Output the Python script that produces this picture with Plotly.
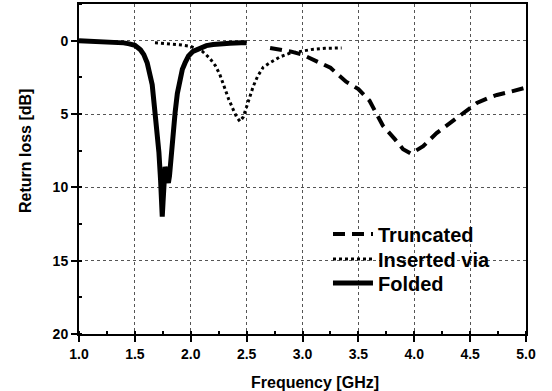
import plotly.graph_objects as go

# Folded (solid)
folded_x = [1.0, 1.1, 1.2, 1.3, 1.4, 1.45, 1.5, 1.55, 1.58, 1.61, 1.635, 1.655, 1.68, 1.70, 1.715, 1.73,
            1.738, 1.745, 1.752, 1.76, 1.77, 1.78, 1.79, 1.80, 1.81, 1.82, 1.835, 1.86, 1.88, 1.90, 1.925,
            1.95, 1.98, 2.02, 2.08, 2.14, 2.2, 2.26, 2.35, 2.45, 2.5]
folded_y = [0.0, 0.02, 0.04, 0.08, 0.15, 0.22, 0.32, 0.62, 0.95, 1.5, 2.2, 3.0, 4.9, 6.3, 7.6, 9.5,
            11.0, 12.0, 11.0, 9.2, 8.6, 9.0, 9.6, 9.7, 9.2, 8.1, 6.5, 4.9, 3.6, 2.65, 1.95,
            1.5, 1.05, 0.73, 0.5, 0.34, 0.26, 0.2, 0.17, 0.15, 0.15]

# Inserted via (dotted)
via_x = [1.68, 1.8, 1.9, 2.0, 2.1, 2.17, 2.22, 2.26, 2.3, 2.34, 2.38, 2.41, 2.44, 2.47, 2.5, 2.54,
         2.56, 2.6, 2.65, 2.71, 2.8, 2.89, 2.95, 3.0, 3.1, 3.2, 3.35]
via_y = [0.15, 0.2, 0.28, 0.39, 0.7, 1.2, 1.7, 2.3, 3.2, 4.0, 4.7, 5.2, 5.5, 5.2, 4.5, 3.5,
         3.1, 2.4, 1.8, 1.5, 1.1, 0.85, 0.78, 0.72, 0.58, 0.52, 0.5]

# Truncated (dashed)
trunc_x = [2.71, 2.8, 2.9, 3.0, 3.1, 3.25, 3.39, 3.5, 3.6, 3.72, 3.83, 3.9, 3.97, 4.08, 4.2, 4.32,
           4.47, 4.56, 4.65, 4.74, 4.85, 5.0]
trunc_y = [0.5, 0.6, 0.75, 0.95, 1.3, 1.85, 2.8, 3.3, 4.1, 5.8, 6.75, 7.4, 7.7, 7.2, 6.3, 5.6,
           4.8, 4.25, 3.95, 3.7, 3.5, 3.2]

x_ticks = [1.0, 1.5, 2.0, 2.5, 3.0, 3.5, 4.0, 4.5, 5.0]
x_ticklabels = ["1.0", "1.5", "2.0", "2.5", "3.0", "3.5", "4.0", "4.5", "5.0"]
y_ticks = [0, 5, 10, 15, 20]
y_ticklabels = ["0", "5", "10", "15", "20"]
x_title = "Frequency [GHz]"
y_title = "Return loss [dB]"

FONT = "Arial, Liberation Sans, sans-serif"

fig = go.Figure()
fig.add_trace(go.Scatter(x=trunc_x, y=trunc_y, mode="lines", name="Truncated", legend="legend",
                         line=dict(color="black", width=4, dash="12px,7px")))
fig.add_trace(go.Scatter(x=via_x, y=via_y, mode="lines", name="Inserted via", legend="legend2",
                         line=dict(color="black", width=3, dash="dot")))
fig.add_trace(go.Scatter(x=folded_x, y=folded_y, mode="lines", name="Folded", legend="legend3",
                         line=dict(color="black", width=5)))

axis_common = dict(
    showline=True, linecolor="black", linewidth=2, mirror=True,
    ticks="outside", ticklen=6, tickwidth=2, tickcolor="black",
    showgrid=True, gridcolor="#555555", gridwidth=1, griddash="dot",
    zeroline=False, automargin=False,
    tickfont=dict(family=FONT, size=14, color="black", weight="bold"),
    minor=dict(ticks="inside", ticklen=3, tickwidth=1.5, tickcolor="black", showgrid=False),
)

fig.update_xaxes(range=[1.0, 5.0], tickvals=x_ticks, ticktext=x_ticklabels,
                 minor_dtick=0.25, **axis_common)
fig.update_yaxes(range=[20, -2.5], tickvals=y_ticks, ticktext=y_ticklabels,
                 minor_dtick=2.5, minor_tick0=0, **axis_common)

title_font = dict(family=FONT, size=16, color="black", weight="bold")
fig.add_annotation(text=x_title, xref="paper", yref="paper", x=0.528, y=-0.1455,
                   xanchor="center", yanchor="middle", showarrow=False, font=title_font)
fig.add_annotation(text=y_title, xref="paper", yref="paper", x=-0.1208, y=0.5545,
                   xanchor="center", yanchor="middle", showarrow=False, textangle=-90,
                   font=title_font)

leg_common = dict(xanchor="left", yanchor="middle", bgcolor="rgba(0,0,0,0)", borderwidth=0,
                  font=dict(family=FONT, size=20, color="black", weight="bold"), itemwidth=40)
x_leg = 0.557
fig.update_layout(
    width=552, height=391,
    margin=dict(l=79, r=26, t=4, b=57),
    paper_bgcolor="white", plot_bgcolor="white",
    showlegend=True,
    legend=dict(x=x_leg, y=(334 - 234) / 330, **leg_common),
    legend2=dict(x=x_leg, y=(334 - 259) / 330, **leg_common),
    legend3=dict(x=x_leg, y=(334 - 283) / 330, **leg_common),
)

fig.write_html("out.html", config={"displayModeBar": False},
               post_script="document.body.style.margin='0';document.body.style.padding='0';")
